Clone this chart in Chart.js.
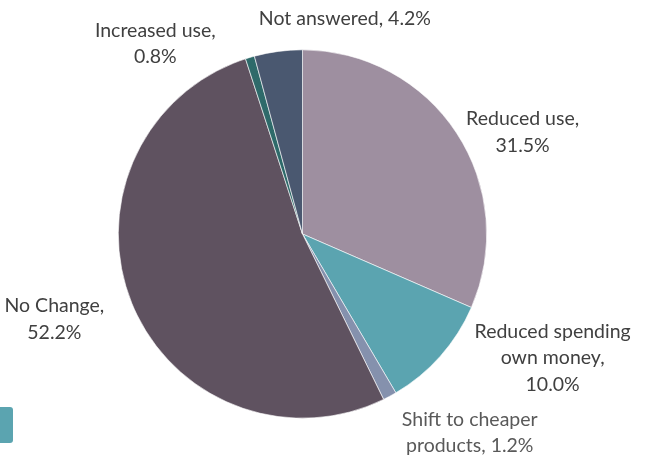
<!DOCTYPE html>
<html>
<head>
<meta charset="utf-8">
<script src="https://cdn.jsdelivr.net/npm/chart.js@4"></script>
<style>
  html, body { margin: 0; padding: 0; background: #fff; }
  #wrap { width: 654px; height: 457px; position: relative; }
</style>
</head>
<body>
<div id="wrap"><canvas id="pie"></canvas></div>
<script>
const categories = ['Reduced use', 'Reduced spending own money', 'Shift to cheaper products', 'No Change', 'Increased use', 'Not answered'];
const shares = [31.5, 10.0, 1.2, 52.2, 0.8, 4.2];
const sliceColors = ['#9e8fa0', '#5ba4b0', '#8591ad', '#5f5260', '#2e6a6a', '#4a5870'];

// label text lines, the percentage is appended after
const labelLines = [
  ['Reduced use,'],
  ['Reduced spending', 'own money,'],
  ['Shift to cheaper', 'products,'],
  ['No Change,'],
  ['Increased use,'],
  ['Not answered,']
];
// label centre relative to pie centre, in units of the radius
const labelPos = [
  [1.195, -0.553],
  [1.358, 0.672],
  [0.908, 1.079],
  [-1.347, 0.462],
  [-0.799, -1.033],
  [0.230, -1.171]
];

const pieLabels = {
  id: 'pieLabels',
  afterDatasetsDraw(chart) {
    const ctx = chart.ctx;
    const arcs = chart.getDatasetMeta(0).data;
    const cx = arcs[0].x, cy = arcs[0].y, r = arcs[0].outerRadius;
    ctx.save();
    ctx.font = '19.5px Lato, sans-serif';
    ctx.textAlign = 'center';
    ctx.textBaseline = 'middle';
    shares.forEach((v, i) => {
      let lines = labelLines[i].slice();
      const pct = v.toFixed(1) + '%';
      if (i === 2 || i === 5) lines[lines.length - 1] += ' ' + pct;
      else lines.push(pct);
      const lh = 26.5;
      const x = cx + labelPos[i][0] * r;
      const y0 = cy + labelPos[i][1] * r - (lines.length - 1) * lh / 2;
      ctx.fillStyle = i === 2 ? '#595959' : '#404040';
      lines.forEach((t, k) => ctx.fillText(t, x, y0 + k * lh));
    });
    // legend swatch cut off at the left edge
    ctx.fillStyle = '#5ba4b0';
    ctx.beginPath();
    ctx.roundRect(-6, 407, 19, 36, 3);
    ctx.fill();
    ctx.restore();
  }
};

new Chart(document.getElementById('pie'), {
  type: 'pie',
  data: {
    labels: categories,
    datasets: [{
      data: shares,
      backgroundColor: sliceColors,
      borderColor: '#ffffff',
      borderWidth: 0.6
    }]
  },
  options: {
    responsive: true,
    maintainAspectRatio: false,
    animation: false,
    layout: { padding: { left: 118, right: 167, top: 49.5, bottom: 38.5 } },
    plugins: { legend: { display: false }, tooltip: { enabled: false } }
  },
  plugins: [pieLabels]
});
</script>
</body>
</html>
